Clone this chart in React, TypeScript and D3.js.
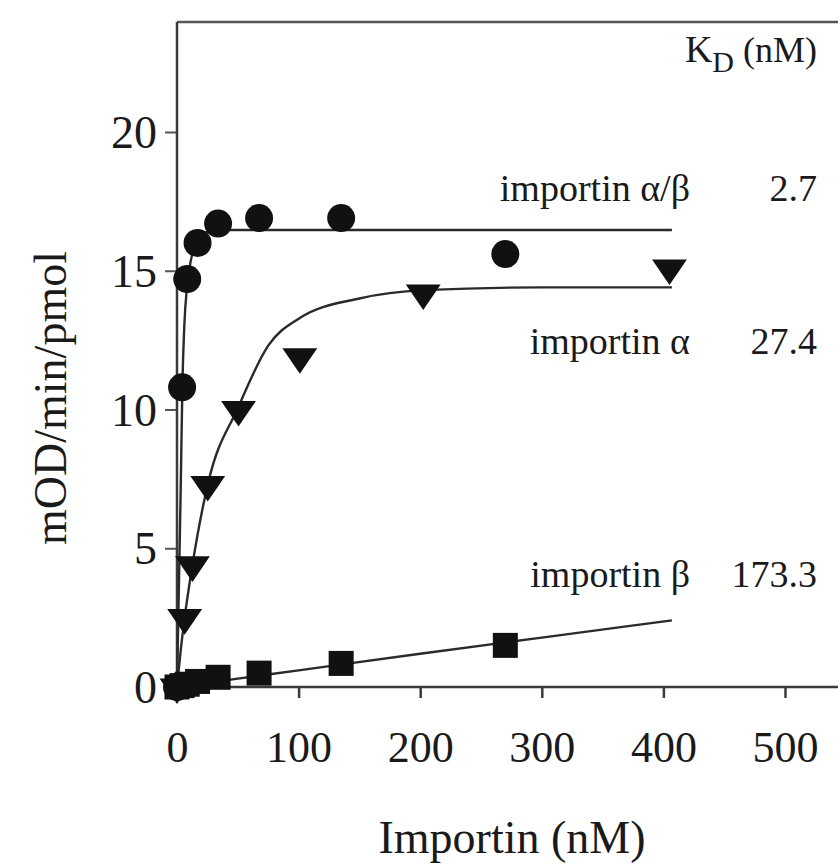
import React, { useEffect, useRef } from "react";
import * as d3 from "d3";

// measured points (nM, mOD/min/pmol)
const alphaBetaX = [0, 4.2, 8.4, 16.9, 33.8, 67.5, 135, 270];
const alphaBetaY = [0, 10.8, 14.7, 16.0, 16.7, 16.9, 16.9, 15.6];
const alphaX = [0, 6.3, 12.7, 25.3, 50.6, 101, 202.5, 405];
const alphaY = [0, 2.5, 4.4, 7.3, 10.0, 11.9, 14.2, 15.1];
const betaX = [0, 4.2, 8.4, 16.9, 33.8, 67.5, 135, 270];
const betaY = [0, 0.05, 0.1, 0.2, 0.35, 0.5, 0.85, 1.5];

// fitted curves
const alphaBetaFitX = [0, 3, 4.5, 6, 8.4, 12, 17, 25, 40, 407];
const alphaBetaFitY = [0, 7, 11, 13, 14.5, 15.5, 16.1, 16.4, 16.47, 16.47];
const alphaFitX = [0, 3, 6.3, 12.7, 25.3, 50.6, 75, 101, 150, 202.5, 300, 407];
const alphaFitY = [0, 1.3, 2.5, 4.4, 7.3, 10.1, 12.3, 13.3, 14.0, 14.3, 14.4, 14.4];
const betaFitX = [0, 50, 100, 200, 300, 407];
const betaFitY = [0, 0.3, 0.6, 1.2, 1.78, 2.4];

const xTicks = [0, 100, 200, 300, 400, 500];
const yTicks = [0, 5, 10, 15, 20];

// K_D table
const kdLabels = ["importin \u03b1/\u03b2", "importin \u03b1", "importin \u03b2"];
const kdValues = ["2.7", "27.4", "173.3"];
const kdLabelY = [17.5, 12.0, 3.6];

const W = 838;
const H = 865;
const FONT = "'Liberation Serif', 'Times New Roman', serif";

const App = () => {
  const ref = useRef(null);

  useEffect(() => {
    const svg = d3.select(ref.current);
    svg.selectAll("*").remove();

    const x = d3.scaleLinear().domain([0, 500]).range([177, 785]);
    const y = d3.scaleLinear().domain([0, 20]).range([687, 132]);
    const left = x(0);
    const top = y(23.96);
    const bottom = y(0);

    // frame: top border, left axis, bottom axis
    const axisColor = "#3a3a3a";
    svg.append("line").attr("x1", left).attr("x2", W + 5).attr("y1", top).attr("y2", top)
      .attr("stroke", "#555").attr("stroke-width", 2.5);

    // x axis
    svg.append("g")
      .attr("transform", `translate(0,${bottom})`)
      .call(d3.axisBottom(x).tickValues(xTicks).tickSize(11).tickSizeOuter(0).tickFormat(d3.format("d")))
      .call((g) => g.select(".domain").remove())
      .call((g) => g.selectAll(".tick line").attr("stroke", axisColor).attr("stroke-width", 2.5)
        .filter((d) => d === 0).remove())
      .call((g) => g.selectAll(".tick text").attr("font-family", FONT).attr("font-size", 44)
        .attr("fill", "#1a1a1a").attr("dy", 0).attr("y", 75));
    svg.append("line").attr("x1", left).attr("x2", W + 5).attr("y1", bottom).attr("y2", bottom)
      .attr("stroke", axisColor).attr("stroke-width", 2.5);

    // y axis
    svg.append("g")
      .attr("transform", `translate(${left},0)`)
      .call(d3.axisLeft(y).tickValues(yTicks).tickSize(12).tickSizeOuter(0))
      .call((g) => g.select(".domain").remove())
      .call((g) => g.selectAll(".tick line").attr("stroke", "#555").attr("stroke-width", 2))
      .call((g) => g.selectAll(".tick text").attr("font-family", FONT).attr("font-size", 46)
        .attr("fill", "#1a1a1a").attr("x", -20).attr("dy", "0.34em"));
    svg.append("line").attr("x1", left).attr("x2", left).attr("y1", top).attr("y2", bottom + 2)
      .attr("stroke", axisColor).attr("stroke-width", 2.5);

    // fitted curves
    const line = d3.line()
      .x((d) => x(d[0]))
      .y((d) => y(d[1]))
      .curve(d3.curveMonotoneX);
    const fits = [
      [betaFitX, betaFitY],
      [alphaFitX, alphaFitY],
      [alphaBetaFitX, alphaBetaFitY],
    ];
    fits.forEach(([fx, fy]) => {
      svg.append("path")
        .datum(fx.map((v, i) => [v, fy[i]]))
        .attr("fill", "none")
        .attr("stroke", "#2a2a2a")
        .attr("stroke-width", 2.4)
        .attr("d", line);
    });

    const markColor = "#111";

    // squares (importin beta)
    const sq = 25;
    svg.append("g").selectAll("rect")
      .data(betaX.map((v, i) => [v, betaY[i]]))
      .enter().append("rect")
      .attr("x", (d) => x(d[0]) - sq / 2)
      .attr("y", (d) => y(d[1]) - sq / 2)
      .attr("width", sq).attr("height", sq)
      .attr("fill", markColor);

    // down triangles (importin alpha)
    const tri = d3.symbol().type(d3.symbolTriangle).size(420);
    svg.append("g").selectAll("path")
      .data(alphaX.map((v, i) => [v, alphaY[i]]))
      .enter().append("path")
      .attr("d", tri)
      .attr("transform", (d) => `translate(${x(d[0])},${y(d[1])}) rotate(180) scale(1.12,0.95)`)
      .attr("fill", markColor);

    // circles (importin alpha/beta)
    svg.append("g").selectAll("circle")
      .data(alphaBetaX.map((v, i) => [v, alphaBetaY[i]]))
      .enter().append("circle")
      .attr("cx", (d) => x(d[0]))
      .attr("cy", (d) => y(d[1]))
      .attr("r", 14)
      .attr("fill", markColor);

    // K_D header
    const kd = svg.append("text")
      .attr("x", 817).attr("y", 62)
      .attr("text-anchor", "end")
      .attr("font-family", FONT)
      .attr("fill", "#1a1a1a");
    kd.append("tspan").attr("font-size", 38).text("K");
    kd.append("tspan").attr("font-size", 30).attr("dy", 10).text("D");
    kd.append("tspan").attr("font-size", 36).attr("dy", -10).text(" (nM)");

    // K_D table rows
    kdLabels.forEach((lab, i) => {
      svg.append("text")
        .attr("x", 690).attr("y", y(kdLabelY[i]))
        .attr("text-anchor", "end")
        .attr("font-family", FONT).attr("font-size", 38)
        .attr("fill", "#1a1a1a")
        .text(lab);
      svg.append("text")
        .attr("x", 817).attr("y", y(kdLabelY[i]))
        .attr("text-anchor", "end")
        .attr("font-family", FONT).attr("font-size", 38)
        .attr("fill", "#1a1a1a")
        .text(kdValues[i]);
    });

    // axis titles
    svg.append("text")
      .attr("x", 512).attr("y", 853)
      .attr("text-anchor", "middle")
      .attr("font-family", FONT).attr("font-size", 46)
      .attr("fill", "#1a1a1a")
      .text("Importin (nM)");
    svg.append("text")
      .attr("transform", `translate(66,398) rotate(-90)`)
      .attr("text-anchor", "middle")
      .attr("font-family", FONT).attr("font-size", 46)
      .attr("fill", "#1a1a1a")
      .text("mOD/min/pmol");
  }, []);

  return (
    <svg
      ref={ref}
      width={W}
      height={H}
      style={{ position: "absolute", left: 0, top: 0, background: "#fff" }}
    />
  );
};

export default App;
